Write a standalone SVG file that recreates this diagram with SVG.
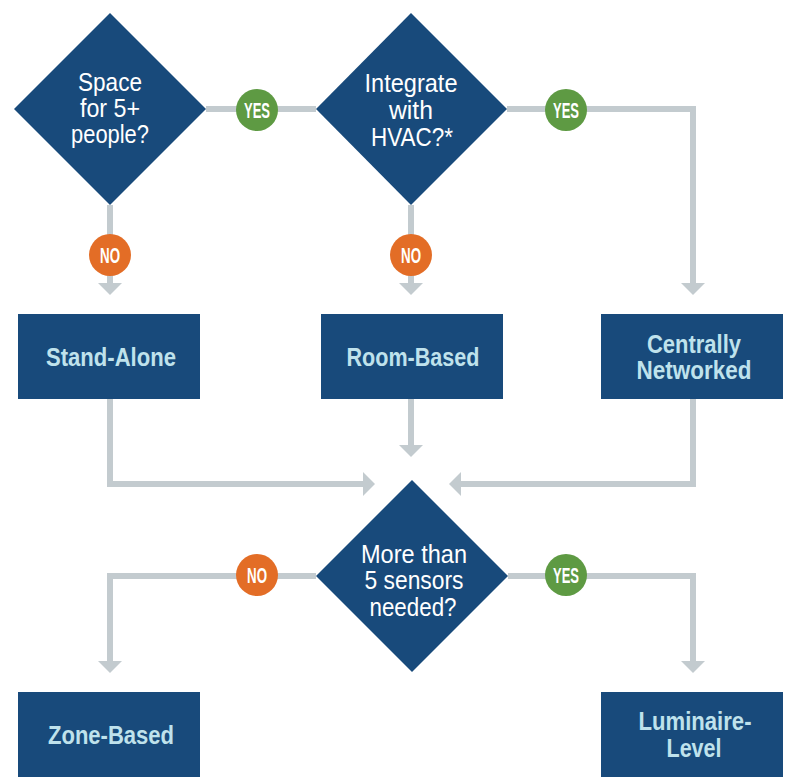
<svg xmlns="http://www.w3.org/2000/svg" width="788" height="777" viewBox="0 0 788 777">
<style>
.shape{fill:#184a7b}
.dt{fill:#ffffff;font-family:"Liberation Sans",Arial,sans-serif;font-size:25px;text-anchor:middle}
.bt{fill:#bfe2ec;font-family:"Liberation Sans",Arial,sans-serif;font-size:25px;font-weight:bold;text-anchor:middle}
.conn{fill:none;stroke:#c3cbcf;stroke-width:6;stroke-linejoin:miter}
.yes{fill:#5e9a43}
.no{fill:#e36d26}
.lt{fill:#ffffff;font-family:"Liberation Sans",Arial,sans-serif;font-size:22px;font-weight:bold;text-anchor:middle}
</style>
<defs>
<marker id="arr" markerUnits="userSpaceOnUse" viewBox="0 0 12 24" refX="0" refY="12" markerWidth="12" markerHeight="24" orient="auto">
<path d="M0,0 L12,12 L0,24 Z" fill="#c3cbcf"/>
</marker>
</defs>
<g id="connectors">
<path class="conn" d="M206,109 H316"/>
<path class="conn" d="M110,205 V283" marker-end="url(#arr)"/>
<path class="conn" d="M411,205 V283" marker-end="url(#arr)"/>
<path class="conn" d="M507,109 H693 V283" marker-end="url(#arr)"/>
<path class="conn" d="M110,399 V484 H363" marker-end="url(#arr)"/>
<path class="conn" d="M411,399 V445" marker-end="url(#arr)"/>
<path class="conn" d="M693,399 V484 H461" marker-end="url(#arr)"/>
<path class="conn" d="M316,576 H110 V661" marker-end="url(#arr)"/>
<path class="conn" d="M508,576 H693 V661" marker-end="url(#arr)"/>
</g>
<g id="label-yes-1"><circle class="yes" cx="257" cy="110" r="21"/><text class="lt" x="257" y="118" textLength="26" lengthAdjust="spacingAndGlyphs">YES</text></g>
<g id="label-yes-2"><circle class="yes" cx="566" cy="110" r="21"/><text class="lt" x="566" y="118" textLength="26" lengthAdjust="spacingAndGlyphs">YES</text></g>
<g id="label-no-1"><circle class="no" cx="110" cy="255" r="21"/><text class="lt" x="110" y="263" textLength="20" lengthAdjust="spacingAndGlyphs">NO</text></g>
<g id="label-no-2"><circle class="no" cx="411" cy="255" r="21"/><text class="lt" x="411" y="263" textLength="20" lengthAdjust="spacingAndGlyphs">NO</text></g>
<g id="label-no-3"><circle class="no" cx="257" cy="575" r="21"/><text class="lt" x="257" y="583" textLength="20" lengthAdjust="spacingAndGlyphs">NO</text></g>
<g id="label-yes-3"><circle class="yes" cx="566" cy="575" r="21"/><text class="lt" x="566" y="583" textLength="26" lengthAdjust="spacingAndGlyphs">YES</text></g>
<g id="node-space">
<polygon class="shape" points="110,13 206,109 110,205 14,109"/>
<text class="dt" x="110" y="91" textLength="64" lengthAdjust="spacingAndGlyphs">Space</text>
<text class="dt" x="110" y="117" textLength="60" lengthAdjust="spacingAndGlyphs">for 5+</text>
<text class="dt" x="110" y="143" textLength="78" lengthAdjust="spacingAndGlyphs">people?</text>
</g>
<g id="node-hvac">
<polygon class="shape" points="411,13 507,109 411,205 316,109"/>
<text class="dt" x="411" y="92" textLength="93" lengthAdjust="spacingAndGlyphs">Integrate</text>
<text class="dt" x="411" y="119" textLength="44" lengthAdjust="spacingAndGlyphs">with</text>
<text class="dt" x="412" y="146" textLength="82" lengthAdjust="spacingAndGlyphs">HVAC?*</text>
</g>
<g id="node-sensors">
<polygon class="shape" points="412,480 508,576 412,672 316,576"/>
<text class="dt" x="414" y="563" textLength="106" lengthAdjust="spacingAndGlyphs">More than</text>
<text class="dt" x="414" y="589" textLength="99" lengthAdjust="spacingAndGlyphs">5 sensors</text>
<text class="dt" x="413" y="616" textLength="87" lengthAdjust="spacingAndGlyphs">needed?</text>
</g>
<g id="node-standalone">
<rect class="shape" x="18" y="314" width="182" height="85"/>
<text class="bt" x="111" y="366" textLength="130" lengthAdjust="spacingAndGlyphs">Stand-Alone</text>
</g>
<g id="node-roombased">
<rect class="shape" x="321" y="314" width="182" height="85"/>
<text class="bt" x="413" y="366" textLength="133" lengthAdjust="spacingAndGlyphs">Room-Based</text>
</g>
<g id="node-central">
<rect class="shape" x="601" y="314" width="182" height="85"/>
<text class="bt" x="694" y="353" textLength="94" lengthAdjust="spacingAndGlyphs">Centrally</text>
<text class="bt" x="694" y="379" textLength="115" lengthAdjust="spacingAndGlyphs">Networked</text>
</g>
<g id="node-zone">
<rect class="shape" x="18" y="692" width="182" height="85"/>
<text class="bt" x="111" y="744" textLength="126" lengthAdjust="spacingAndGlyphs">Zone-Based</text>
</g>
<g id="node-luminaire">
<rect class="shape" x="601" y="692" width="182" height="85"/>
<text class="bt" x="695" y="730" textLength="113" lengthAdjust="spacingAndGlyphs">Luminaire-</text>
<text class="bt" x="694" y="757" textLength="55" lengthAdjust="spacingAndGlyphs">Level</text>
</g>
</svg>
